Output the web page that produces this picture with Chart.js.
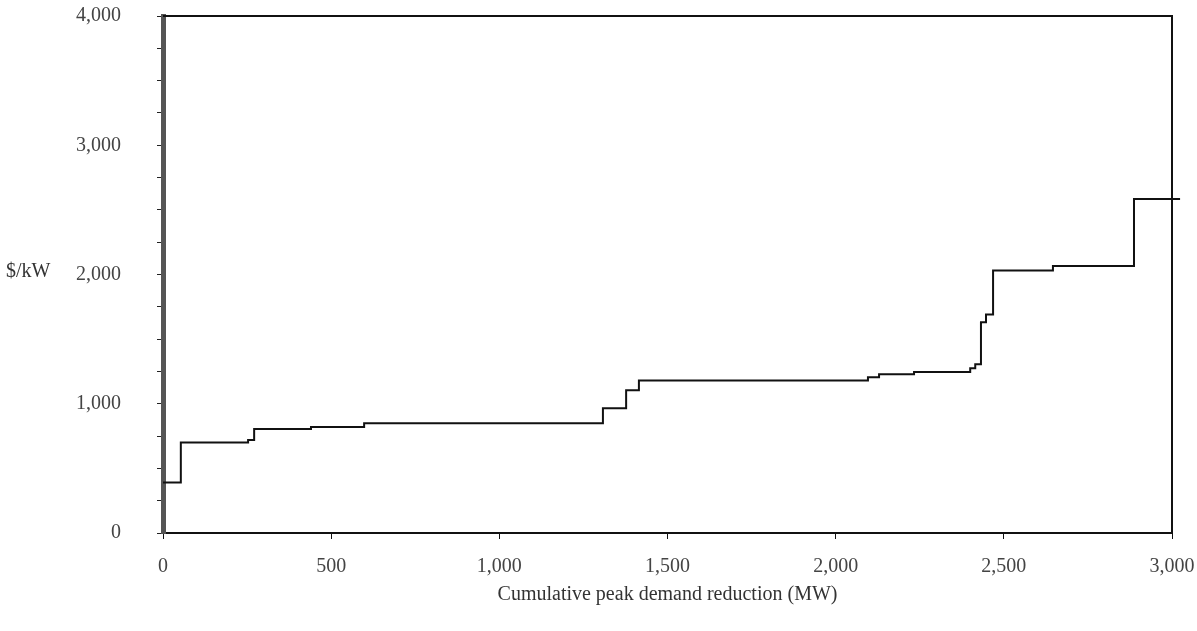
<!DOCTYPE html>
<html lang="en">
<head>
    <meta charset="UTF-8">
    <title>Cumulative peak demand reduction</title>
    <style>
        * { box-sizing: border-box; margin: 0; }
        html, body { width: 1197px; height: 631px; background: #fff; overflow: hidden; }
        #main { position: relative; width: 1197px; height: 631px; }
    </style>
</head>
<body>
    <div id="main">
        <canvas id="chartCanvasId"></canvas>
    </div>

    <script src="https://cdn.jsdelivr.net/npm/chart.js@4.4.1/dist/chart.umd.min.js"></script>
    <script>
        "use strict";

        // cumulative MW where each cost level starts, and the $/kW level
        const stepStartMW = [0, 53, 253, 271, 440, 598, 1308, 1377, 1415, 2096, 2129, 2233, 2400, 2415, 2432, 2447, 2468, 2646, 2887, 3024]
        const costPerKW   = [390, 700, 720, 805, 820, 850, 965, 1105, 1180, 1205, 1228, 1245, 1275, 1305, 1630, 1690, 2030, 2065, 2585, 2585]
        const yTickLabels = [0, 1000, 2000, 3000, 4000]
        const xTitle      = "Cumulative peak demand reduction (MW)"
        const yTitle      = "$/kW"

        const points = stepStartMW.map((mw, i) => ({ x: mw, y: costPerKW[i] }))
        const serif  = "'Liberation Serif', 'DejaVu Serif', serif"

        // top / right frame plus the horizontal "$/kW" label
        const framePlugin = {
            id: 'frame',
            afterDraw(chart) {
                const a = chart.chartArea
                const ctx = chart.ctx
                ctx.save()
                ctx.strokeStyle = '#111'
                ctx.lineWidth = 2
                ctx.beginPath()
                ctx.moveTo(a.left, a.top)
                ctx.lineTo(a.right, a.top)
                ctx.lineTo(a.right, a.bottom)
                ctx.stroke()
                ctx.fillStyle = '#333'
                ctx.font = "20px " + serif
                ctx.textBaseline = 'middle'
                ctx.fillText(yTitle, 6, 272)
                ctx.restore()
            }
        }

        const chartContext = document.getElementById('chartCanvasId').getContext('2d')

        const myChart = new Chart(chartContext, {
            type: 'line',
            data: {
                datasets: [{
                    data: points,
                    stepped: 'before',
                    borderColor: '#111',
                    borderWidth: 2,
                    pointRadius: 0,
                    fill: false,
                    clip: false
                }]
            },
            options: {
                responsive: true,
                maintainAspectRatio: false,
                animation: false,
                layout: { padding: { top: 16, right: 25, left: 0, bottom: 0 } },
                plugins: { legend: { display: false }, tooltip: { enabled: false } },
                scales: {
                    x: {
                        type: 'linear',
                        min: 0,
                        max: 3000,
                        border: { color: '#111', width: 2 },
                        grid: { drawOnChartArea: false, tickLength: 6, tickColor: '#111' },
                        ticks: {
                            stepSize: 500,
                            padding: 16,
                            color: '#444',
                            font: { family: serif, size: 20 },
                            maxRotation: 0,
                            callback: v => v.toLocaleString('en-US')
                        },
                        title: {
                            display: true,
                            text: xTitle,
                            color: '#333',
                            font: { family: serif, size: 20 },
                            padding: { top: 0, bottom: 24 }
                        },
                        afterFit: s => { s.height = 98; s.paddingLeft = 0; s.paddingRight = 0 }
                    },
                    y: {
                        min: 0,
                        max: 4000,
                        border: { color: '#555', width: 5 },
                        grid: { drawOnChartArea: false, tickLength: 6, tickColor: '#222' },
                        ticks: {
                            stepSize: 250,
                            padding: 36,
                            color: '#444',
                            font: { family: serif, size: 20 },
                            callback: v => yTickLabels.includes(v) ? v.toLocaleString('en-US') : ''
                        },
                        afterFit: s => { s.width = 163; s.paddingTop = 0; s.paddingBottom = 0 }
                    }
                }
            },
            plugins: [framePlugin]
        })
    </script>
</body>
</html>
